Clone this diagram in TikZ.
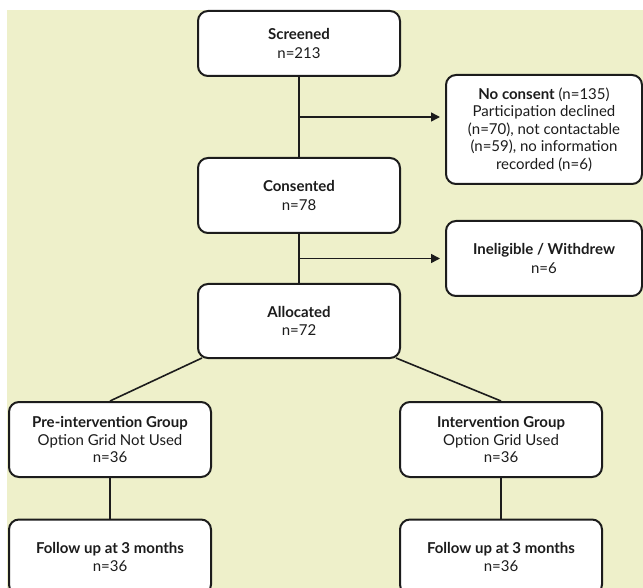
\documentclass[tikz,border=0pt]{standalone}
\usepackage{fontspec}
\setmainfont{Lato}
\usetikzlibrary{arrows.meta,calc}
\definecolor{bg}{RGB}{238,240,202}
\definecolor{ink}{RGB}{28,28,28}
\begin{document}
\begin{tikzpicture}[x=1pt,y=-1pt,
  box/.style={draw=ink, line width=2pt, rounded corners=10pt, fill=white,
    align=center, text=ink, font=\fontsize{15}{18.5}\selectfont, inner sep=0pt,
    minimum width=202pt, minimum height=75pt},
  link/.style={draw=ink, line width=1.6pt},
  arr/.style={link, -{Triangle[length=9pt,width=9pt]}, shorten >=5pt}]
\useasboundingbox (0,0) rectangle (643,588);
\fill[bg] (7,10) rectangle (643,588);

\node[box, minimum height=65pt] (screened) at (299,43.5) {\textbf{Screened}\\n=213};
\node[box] (consented) at (299,195.5) {\textbf{Consented}\\n=78};
\node[box, minimum height=74pt] (allocated) at (299,321) {\textbf{Allocated}\\n=72};
\node[box, minimum width=196pt, minimum height=109pt, font=\fontsize{15}{17.5}\selectfont] (noconsent) at (544,129.5)
  {\textbf{No consent} (n=135)\\Participation declined\\(n=70), not contactable\\(n=59), no information\\recorded (n=6)};
\node[box, minimum width=196pt] (inelig) at (544,258.5) {\textbf{Ineligible / Withdrew}\\n=6};
\node[box, font=\fontsize{15}{17.5}\selectfont] (pre) at (110,439.5) {\textbf{Pre-intervention Group}\\Option Grid Not Used\\n=36};
\node[box, font=\fontsize{15}{17.5}\selectfont] (interv) at (501,439.5) {\textbf{Intervention Group}\\Option Grid Used\\n=36};
\node[box] (fupL) at (110,557) {\textbf{Follow up at 3 months}\\n=36};
\node[box] (fupR) at (501,557) {\textbf{Follow up at 3 months}\\n=36};

\coordinate (j1) at ($(screened.south)!0.5!(consented.north)$);
\coordinate (j2) at ($(consented.south)!0.5!(allocated.north)$);

\draw[link] (screened.south) -- (consented.north);
\draw[link] (consented.south) -- (allocated.north);
\draw[arr] (j1) -- (noconsent.west |- j1);
\draw[arr] (j2) -- (inelig.west |- j2);
\draw[link] ([xshift=5pt,yshift=1pt]allocated.south west) -- (pre.north);
\draw[link] ([xshift=-5pt,yshift=1pt]allocated.south east) -- (interv.north);
\draw[link] (pre.south) -- (fupL.north);
\draw[link] (interv.south) -- (fupR.north);
\end{tikzpicture}
\end{document}
